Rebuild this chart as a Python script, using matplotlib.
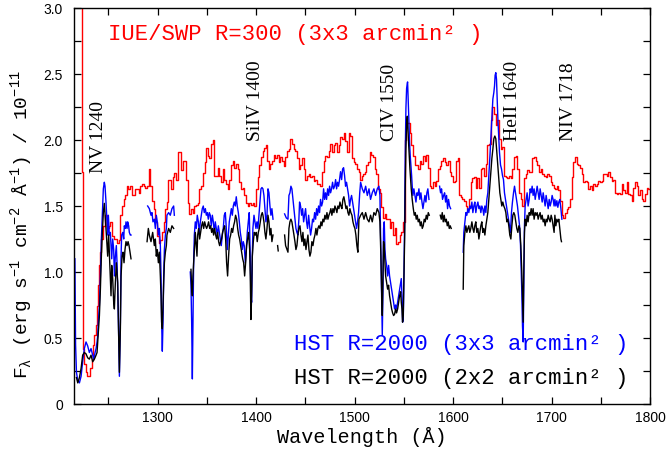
import numpy as np
import matplotlib
matplotlib.use("Agg")
import matplotlib.pyplot as plt

nan = float("nan")

# ---------------- data (wavelength in Angstrom, flux in 1e-11 erg/s/cm2/A) -------------
iue_swp = [
    (1222.6, 3.50), (1223.3, 1.76), (1224.0, 0.52), (1225.0, 0.42), (1226.2, 0.30), (1227.5, 0.24),
    (1229.0, 0.21), (1230.6, 0.21), (1232.3, 0.27), (1233.6, 0.33), (1235.0, 0.45), (1236.3, 0.52),
    (1237.4, 0.60), (1238.7, 0.74), (1240.1, 0.90), (1241.4, 1.05), (1242.4, 1.15), (1243.1, 1.25),
    (1244.8, 1.35), (1247.5, 1.43), (1249.2, 1.33), (1250.9, 1.35), (1252.6, 1.38), (1254.3, 1.27),
    (1256.0, 1.25), (1257.7, 1.25), (1259.4, 1.22), (1261.1, 1.24), (1262.8, 1.43), (1264.5, 1.50),
    (1266.2, 1.55), (1267.8, 1.58), (1269.5, 1.65), (1271.2, 1.63), (1272.9, 1.65), (1274.6, 1.58),
    (1276.3, 1.58), (1278.0, 1.63), (1279.7, 1.63), (1281.4, 1.60), (1283.1, 1.65), (1284.8, 1.67),
    (1286.5, 1.65), (1288.2, 1.64), (1289.9, 1.65), (1291.5, 1.78), (1293.2, 1.65), (1294.9, 1.54),
    (1296.6, 1.48), (1298.3, 1.38), (1300.0, 1.27), (1301.7, 1.22), (1303.4, 1.24), (1305.1, 1.30),
    (1306.8, 1.38), (1308.5, 1.48), (1309.4, 1.53), (1311.1, 1.70), (1312.8, 1.70), (1314.5, 1.63),
    (1316.2, 1.72), (1317.9, 1.75), (1319.6, 1.70), (1321.3, 1.91), (1323.0, 1.91), (1324.7, 1.77),
    (1326.4, 1.84), (1328.1, 1.84), (1329.7, 1.70), (1331.4, 1.52), (1333.1, 1.44), (1334.8, 1.48),
    (1336.5, 1.45), (1338.2, 1.50), (1339.9, 1.51), (1341.6, 1.52), (1343.3, 1.63), (1345.0, 1.65),
    (1346.7, 1.75), (1348.4, 1.83), (1350.0, 1.94), (1351.7, 1.88), (1353.4, 1.86), (1355.1, 1.97),
    (1356.8, 2.00), (1358.5, 1.73), (1360.2, 1.73), (1361.9, 1.79), (1363.6, 1.73), (1365.3, 1.68),
    (1367.0, 1.78), (1368.7, 1.70), (1370.3, 1.67), (1372.0, 1.63), (1373.7, 1.70), (1375.4, 1.81),
    (1377.1, 1.84), (1378.8, 1.79), (1380.5, 1.82), (1382.2, 1.78), (1383.9, 1.68), (1385.6, 1.63),
    (1387.3, 1.64), (1389.0, 1.58), (1390.7, 1.52), (1392.3, 1.50), (1394.0, 1.52), (1395.7, 1.51),
    (1397.4, 1.52), (1399.1, 1.50), (1400.8, 1.63), (1402.5, 1.72), (1404.2, 1.81), (1405.9, 1.87),
    (1407.6, 1.92), (1409.3, 1.94), (1411.0, 1.96), (1412.0, 1.84), (1413.7, 1.78), (1415.4, 1.82),
    (1417.1, 1.84), (1418.7, 1.89), (1420.4, 1.86), (1422.1, 1.89), (1423.8, 1.83), (1425.5, 1.87),
    (1427.2, 1.84), (1428.9, 1.80), (1430.6, 1.87), (1432.3, 1.92), (1434.0, 1.93), (1435.7, 2.01),
    (1437.4, 1.97), (1439.0, 1.93), (1440.7, 1.92), (1442.4, 1.86), (1444.1, 1.78), (1445.8, 1.81),
    (1447.5, 1.86), (1449.2, 1.78), (1450.9, 1.70), (1452.6, 1.73), (1454.3, 1.74), (1456.0, 1.72),
    (1457.7, 1.73), (1459.4, 1.69), (1461.0, 1.70), (1462.7, 1.67), (1464.4, 1.67), (1466.1, 1.65),
    (1467.8, 1.76), (1469.5, 1.84), (1471.2, 1.88), (1472.9, 1.87), (1474.6, 1.92), (1476.3, 1.97),
    (1478.0, 1.91), (1479.7, 1.96), (1481.3, 1.98), (1483.0, 1.91), (1484.7, 1.96), (1486.4, 2.02),
    (1488.1, 2.01), (1489.8, 2.05), (1491.5, 1.99), (1493.2, 1.91), (1494.9, 2.05), (1496.6, 2.03),
    (1498.3, 1.86), (1500.0, 1.83), (1501.7, 1.82), (1503.3, 1.78), (1505.0, 1.76), (1506.7, 1.70),
    (1508.4, 1.73), (1509.5, 1.74), (1511.2, 1.76), (1512.9, 1.81), (1514.6, 1.83), (1516.2, 1.91),
    (1517.9, 1.89), (1519.6, 1.87), (1521.3, 1.78), (1523.0, 1.74), (1524.7, 1.63), (1526.4, 1.60),
    (1528.1, 1.49), (1529.8, 1.41), (1531.5, 1.44), (1533.2, 1.40), (1534.9, 1.40), (1536.5, 1.33),
    (1538.2, 1.38), (1539.9, 1.28), (1541.6, 1.33), (1543.3, 1.21), (1545.0, 1.23), (1546.7, 1.28),
    (1548.4, 1.30), (1550.1, 1.38), (1551.8, 2.00), (1553.5, 2.13), (1555.2, 2.13), (1556.9, 2.05),
    (1558.5, 1.96), (1560.2, 1.88), (1561.9, 1.81), (1563.6, 1.81), (1565.3, 1.78), (1567.0, 1.84),
    (1568.7, 1.82), (1570.4, 1.88), (1572.1, 1.84), (1573.8, 1.89), (1575.5, 1.79), (1577.2, 1.65),
    (1578.8, 1.64), (1580.5, 1.68), (1582.2, 1.65), (1583.9, 1.69), (1585.6, 1.78), (1587.3, 1.80),
    (1589.0, 1.84), (1590.7, 1.86), (1592.4, 1.83), (1594.1, 1.81), (1595.8, 1.84), (1597.5, 1.76),
    (1599.2, 1.73), (1600.9, 1.68), (1602.5, 1.69), (1604.2, 1.84), (1605.9, 1.86), (1606.9, 1.58),
    (1608.6, 1.57), (1610.3, 1.55), (1612.0, 1.54), (1613.6, 1.50), (1615.3, 1.48), (1617.0, 1.55),
    (1618.7, 1.68), (1620.4, 1.71), (1622.1, 1.72), (1623.8, 1.64), (1625.5, 1.71), (1627.2, 1.64),
    (1628.9, 1.78), (1630.6, 1.79), (1632.3, 1.73), (1633.9, 1.82), (1635.6, 1.96), (1637.3, 1.97),
    (1639.0, 2.15), (1640.7, 2.25), (1642.4, 2.20), (1644.1, 2.11), (1645.8, 2.15), (1647.5, 2.01),
    (1649.2, 1.93), (1650.9, 1.95), (1652.6, 1.73), (1654.3, 1.72), (1655.9, 1.71), (1657.6, 1.73),
    (1659.3, 1.71), (1661.0, 1.78), (1662.7, 1.87), (1664.4, 1.88), (1666.1, 1.78), (1667.8, 1.60),
    (1669.5, 1.55), (1671.2, 1.50), (1672.9, 1.71), (1674.6, 1.74), (1676.2, 1.77), (1677.9, 1.76),
    (1679.6, 1.76), (1681.3, 1.86), (1683.0, 1.87), (1684.7, 1.84), (1686.4, 1.81), (1688.1, 1.76),
    (1689.8, 1.78), (1691.5, 1.74), (1693.2, 1.73), (1694.9, 1.72), (1696.6, 1.74), (1698.3, 1.73),
    (1699.9, 1.68), (1701.6, 1.66), (1703.3, 1.64), (1704.4, 1.63), (1706.1, 1.65), (1707.8, 1.62),
    (1709.5, 1.54), (1711.1, 1.43), (1712.8, 1.41), (1714.5, 1.45), (1716.2, 1.48), (1717.9, 1.49),
    (1719.6, 1.55), (1721.3, 1.72), (1723.0, 1.83), (1724.7, 1.87), (1726.4, 1.82), (1728.1, 1.81),
    (1729.8, 1.79), (1731.5, 1.74), (1733.1, 1.68), (1734.8, 1.69), (1736.5, 1.68), (1738.2, 1.63),
    (1739.9, 1.65), (1741.6, 1.62), (1743.3, 1.67), (1745.0, 1.65), (1746.7, 1.67), (1748.4, 1.69),
    (1750.1, 1.68), (1751.8, 1.69), (1753.4, 1.74), (1755.1, 1.74), (1756.8, 1.73), (1758.5, 1.76),
    (1760.2, 1.72), (1761.9, 1.69), (1763.6, 1.70), (1765.3, 1.60), (1767.0, 1.59), (1768.7, 1.60),
    (1770.4, 1.59), (1772.1, 1.67), (1773.8, 1.62), (1775.4, 1.60), (1777.1, 1.68), (1778.8, 1.59),
    (1780.5, 1.58), (1782.2, 1.54), (1783.9, 1.64), (1785.6, 1.68), (1787.3, 1.65), (1789.0, 1.58),
    (1790.7, 1.62), (1792.4, 1.55), (1794.1, 1.54), (1795.8, 1.59), (1797.5, 1.64), (1799.2, 1.63),
    (1800.9, 1.64),
]

hst_3x3 = [
    (1215.9, 1.10), (1216.6, 0.45), (1217.5, 0.24), (1218.8, 0.18), (1220.5, 0.16), (1222.2, 0.21),
    (1223.8, 0.32), (1225.5, 0.42), (1227.2, 0.47), (1228.9, 0.44), (1230.6, 0.39), (1232.3, 0.42),
    (1234.0, 0.37), (1235.0, 0.34), (1236.4, 0.39), (1237.4, 0.42), (1238.4, 0.47), (1239.1, 0.52),
    (1239.7, 0.62), (1240.8, 0.75), (1241.8, 0.97), (1242.8, 1.25), (1243.8, 1.43), (1244.8, 1.63),
    (1245.8, 1.68), (1246.5, 1.65), (1247.5, 1.53), (1248.5, 1.38), (1249.2, 1.28), (1249.9, 1.43),
    (1250.9, 1.28), (1251.9, 1.30), (1252.6, 1.20), (1253.3, 1.10), (1254.3, 1.25), (1255.3, 1.17),
    (1256.0, 0.97), (1257.0, 1.12), (1258.0, 1.20), (1258.7, 1.07), (1259.4, 0.87), (1260.1, 0.62),
    (1261.1, 0.21), (1262.1, 0.62), (1262.8, 1.12), (1263.4, 1.28), (1264.5, 1.30), (1265.5, 1.25),
    (1266.1, 1.35), (1267.2, 1.33), (1267.8, 1.38), (1268.9, 1.33), (1269.5, 1.38), (1270.5, 1.35),
    (1271.2, 1.30), (1272.2, 1.28), (1272.9, 1.28), (nan, nan),
    (1289.8, 1.50), (1291.5, 1.48), (1293.2, 1.43), (1294.2, 1.45), (1295.2, 1.38), (1296.6, 1.40),
    (1297.6, 1.33), (1298.6, 1.43), (1299.6, 1.38), (1300.7, 1.28), (1301.7, 1.33), (1302.7, 1.20),
    (1303.4, 0.97), (1304.0, 0.62), (1304.7, 0.40), (1305.4, 0.62), (1306.1, 0.97), (1306.8, 1.17),
    (1307.8, 1.28), (1308.8, 1.33), (1309.4, 1.43), (1311.1, 1.45), (1312.8, 1.43), (1314.5, 1.48),
    (1316.2, 1.50), (1316.9, 1.43), (nan, nan),
    (1333.1, 1.00), (1333.8, 0.90), (1334.5, 0.62), (1335.2, 0.19), (1335.8, 0.62), (1336.5, 1.07),
    (1337.2, 1.28), (1338.2, 1.38), (1339.2, 1.33), (1340.2, 1.43), (1341.3, 1.38), (1342.3, 1.30),
    (1343.3, 1.38), (1344.3, 1.43), (1345.3, 1.48), (1346.3, 1.50), (1347.3, 1.45), (1348.4, 1.48),
    (1349.4, 1.43), (1350.4, 1.45), (1351.4, 1.40), (1352.4, 1.45), (1353.4, 1.43), (1354.4, 1.35),
    (1355.5, 1.43), (1356.5, 1.38), (1357.5, 1.30), (1358.5, 1.38), (1359.5, 1.33), (1360.5, 1.28),
    (1361.6, 1.35), (1362.6, 1.30), (1363.6, 1.25), (1364.6, 1.20), (1365.6, 1.28), (1366.6, 1.33),
    (1367.6, 1.43), (1368.7, 1.45), (1369.7, 1.33), (1370.7, 1.17), (1371.7, 1.28), (1372.7, 1.38),
    (1373.7, 1.43), (1374.8, 1.48), (1375.8, 1.43), (1376.8, 1.50), (1377.8, 1.53), (1378.8, 1.50),
    (1379.8, 1.57), (1380.8, 1.50), (1381.9, 1.45), (1382.9, 1.38), (1383.9, 1.30), (1384.9, 1.25),
    (1385.9, 1.17), (1386.9, 1.23), (1387.9, 1.20), (1389.0, 1.07), (1390.0, 1.17), (1391.0, 1.30),
    (1392.0, 1.38), (1393.0, 1.45), (1394.0, 1.12), (1394.7, 0.82), (1395.4, 0.77), (1396.1, 1.12),
    (1396.7, 1.33), (1397.8, 1.43), (1398.8, 1.38), (1399.8, 1.33), (1400.8, 1.38), (1401.8, 1.33),
    (1402.8, 1.43), (1403.9, 1.53), (1404.9, 1.63), (1405.9, 1.64), (1406.9, 1.63), (1407.9, 1.58),
    (1408.9, 1.48), (1409.9, 1.38), (1411.0, 1.43), (1412.0, 1.63), (1413.0, 1.60), (1414.0, 1.50),
    (1415.0, 1.43), (1416.0, 1.48), (1417.1, 1.40), (nan, nan),
    (1428.9, 1.44), (1430.6, 1.41), (1432.3, 1.40), (1433.3, 1.58), (1434.3, 1.60), (1435.3, 1.65),
    (1436.3, 1.63), (1437.4, 1.55), (1438.4, 1.48), (1439.4, 1.40), (1440.4, 1.33), (1441.4, 1.30),
    (1442.4, 1.28), (1443.4, 1.40), (1444.1, 1.53), (1445.1, 1.50), (1446.2, 1.43), (1447.2, 1.48),
    (1448.2, 1.38), (1449.2, 1.43), (1450.2, 1.48), (1451.2, 1.38), (1452.2, 1.33), (1453.3, 1.43),
    (1454.3, 1.35), (1455.3, 1.28), (1456.3, 1.33), (1457.3, 1.40), (1458.3, 1.38), (1459.4, 1.45),
    (1460.4, 1.40), (1461.4, 1.48), (1462.4, 1.43), (1463.4, 1.50), (1464.4, 1.45), (1465.4, 1.55),
    (1466.5, 1.50), (1467.5, 1.53), (1468.5, 1.63), (1469.5, 1.55), (1470.5, 1.60), (1471.5, 1.55),
    (1472.6, 1.63), (1473.6, 1.58), (1474.6, 1.65), (1475.6, 1.60), (1476.6, 1.63), (1477.6, 1.68),
    (1478.6, 1.63), (1479.7, 1.65), (1480.7, 1.70), (1481.7, 1.63), (1482.7, 1.68), (1483.7, 1.65),
    (1484.7, 1.70), (1485.7, 1.76), (1486.8, 1.70), (1487.8, 1.78), (1488.8, 1.79), (1489.8, 1.73),
    (1490.8, 1.65), (1491.8, 1.68), (1492.9, 1.63), (1493.9, 1.58), (1494.9, 1.50), (1495.9, 1.55),
    (1496.9, 1.58), (1497.9, 1.53), (1498.9, 1.48), (1500.0, 1.43), (1501.0, 1.38), (1502.0, 1.33),
    (1503.0, 1.38), (1504.0, 1.45), (1505.2, 1.60), (1506.1, 1.68), (1507.8, 1.63), (1509.5, 1.60),
    (1511.2, 1.65), (1512.9, 1.58), (1514.6, 1.63), (1516.2, 1.55), (1517.9, 1.60), (1519.6, 1.63),
    (1521.3, 1.58), (1523.0, 1.63), (1524.7, 1.65), (1525.7, 1.58), (1526.7, 1.12), (1527.4, 0.75),
    (1528.1, 0.52), (1528.8, 0.87), (1529.4, 1.33), (1530.1, 1.38), (1530.8, 1.17), (1531.5, 1.10),
    (1532.5, 1.05), (1533.5, 0.97), (1534.5, 1.05), (1535.5, 0.97), (1536.5, 0.92), (1537.6, 0.87),
    (1538.6, 0.82), (1539.6, 0.77), (1540.6, 0.72), (1541.6, 0.75), (1542.6, 0.72), (1543.7, 0.77),
    (1544.7, 0.82), (1545.7, 0.87), (1546.7, 0.92), (1547.4, 0.95), (1548.1, 0.82), (1548.7, 0.62),
    (1549.4, 0.64), (1550.1, 0.97), (1550.8, 1.38), (1551.4, 1.88), (1552.1, 2.24), (1552.8, 2.39),
    (1553.5, 2.43), (1553.8, 2.44), (1554.5, 2.29), (1555.2, 2.13), (1555.8, 1.98), (1556.5, 1.88),
    (1557.2, 1.81), (1557.9, 1.73), (1558.5, 1.65), (1559.2, 1.58), (1560.2, 1.63), (1561.3, 1.58),
    (1562.3, 1.53), (1563.3, 1.60), (1564.3, 1.58), (1565.3, 1.63), (1566.3, 1.55), (1567.3, 1.60),
    (1568.4, 1.53), (1569.4, 1.48), (1570.4, 1.53), (1571.4, 1.58), (1572.4, 1.53), (1573.4, 1.60),
    (1574.4, 1.63), (1575.5, 1.55), (nan, nan),
    (1586.3, 1.65), (1587.3, 1.60), (1588.3, 1.63), (1589.3, 1.55), (1590.4, 1.58), (1591.4, 1.60),
    (1592.4, 1.53), (1593.4, 1.58), (1594.4, 1.48), (1595.4, 1.55), (1596.4, 1.50), (1597.5, 1.48),
    (nan, nan),
    (1610.3, 1.15), (1610.9, 1.30), (1612.0, 1.38), (1613.0, 1.45), (1614.0, 1.43), (1615.0, 1.48),
    (1616.0, 1.45), (1617.0, 1.50), (1618.0, 1.48), (1619.1, 1.53), (1620.1, 1.45), (1621.1, 1.50),
    (1622.1, 1.53), (1623.1, 1.45), (1624.1, 1.50), (1625.2, 1.53), (1626.2, 1.48), (1627.2, 1.50),
    (1628.2, 1.45), (1629.2, 1.50), (1630.2, 1.48), (1631.2, 1.43), (1632.3, 1.50), (1633.3, 1.45),
    (1634.3, 1.55), (1635.3, 1.60), (1636.3, 1.73), (1637.3, 1.86), (1638.3, 2.01), (1639.4, 2.16),
    (1640.4, 2.31), (1641.4, 2.36), (1642.1, 2.41), (1642.7, 2.49), (1643.4, 2.51), (1644.1, 2.46),
    (1644.8, 2.31), (1645.5, 2.16), (1646.1, 2.06), (1647.1, 1.91), (1648.2, 1.81), (1649.2, 1.78),
    (1650.2, 1.73), (1651.2, 1.70), (1652.2, 1.60), (1653.2, 1.55), (1654.3, 1.50), (1655.3, 1.45),
    (1656.3, 1.40), (1657.3, 1.35), (1658.3, 1.30), (1659.3, 1.45), (1660.3, 1.53), (1661.4, 1.60),
    (1662.4, 1.65), (1663.4, 1.60), (1664.4, 1.55), (1665.4, 1.50), (1666.4, 1.43), (1667.5, 1.35),
    (1668.5, 1.20), (1669.1, 1.05), (1669.8, 0.85), (1670.5, 0.59), (1671.2, 0.47), (1671.8, 0.85),
    (1672.5, 1.35), (1673.2, 1.50), (1674.2, 1.55), (1675.2, 1.60), (1676.2, 1.50), (1677.3, 1.55),
    (1678.3, 1.63), (1679.3, 1.60), (1680.3, 1.65), (1681.3, 1.58), (1682.3, 1.63), (1683.4, 1.55),
    (1684.4, 1.60), (1685.4, 1.65), (1686.4, 1.60), (1687.4, 1.55), (1688.4, 1.63), (1689.4, 1.58),
    (1690.5, 1.53), (1691.5, 1.60), (1692.5, 1.55), (1693.5, 1.50), (1694.5, 1.58), (1695.5, 1.53),
    (1696.6, 1.48), (1697.6, 1.55), (1698.6, 1.50), (1699.6, 1.53), (1700.6, 1.58), (1701.6, 1.55),
    (1702.6, 1.50), (1703.4, 1.55), (1704.4, 1.50), (1705.4, 1.54), (1706.4, 1.49), (1707.4, 1.53),
    (1708.4, 1.55), (1709.5, 1.48), (1710.5, 1.40),
]

hst_2x2 = [
    (1217.5, 0.20), (1218.8, 0.16), (1220.5, 0.20), (1222.2, 0.27), (1223.8, 0.37), (1225.5, 0.39),
    (1227.2, 0.38), (1228.9, 0.35), (1230.6, 0.34), (1232.3, 0.37), (1234.0, 0.32), (1235.7, 0.34),
    (1237.4, 0.37), (1238.4, 0.39), (1240.8, 0.67), (1241.8, 0.87), (1242.8, 1.12), (1243.8, 1.30),
    (1244.8, 1.45), (1245.8, 1.52), (1246.9, 1.40), (1247.9, 1.28), (1248.5, 1.20), (1249.2, 1.12),
    (1250.2, 1.28), (1251.3, 1.07), (1251.9, 0.97), (1252.6, 0.82), (1253.3, 1.05), (1254.3, 0.95),
    (1255.3, 0.77), (1256.0, 0.72), (1257.0, 0.92), (1258.0, 1.07), (1259.4, 0.92), (1260.1, 0.62),
    (1261.1, 0.24), (1262.1, 0.57), (1262.8, 0.97), (1263.8, 1.12), (1264.8, 1.15), (1265.8, 1.07),
    (1266.8, 1.17), (1267.8, 1.23), (1268.9, 1.20), (1269.9, 1.23), (1270.9, 1.20), (1271.9, 1.15),
    (1272.9, 1.10), (nan, nan),
    (1289.2, 1.23), (1290.5, 1.33), (1291.5, 1.28), (1293.2, 1.23), (1294.9, 1.30), (1296.6, 1.20),
    (1297.6, 1.25), (1298.6, 1.12), (1299.6, 1.17), (1300.7, 1.07), (1301.7, 1.15), (1302.7, 0.97),
    (1303.4, 0.82), (1304.0, 0.62), (1304.7, 0.57), (1305.4, 0.75), (1306.1, 0.92), (1306.8, 1.07),
    (1307.8, 1.15), (1308.8, 1.20), (1309.4, 1.28), (1311.1, 1.33), (1312.8, 1.30), (1314.5, 1.35),
    (1316.2, 1.33), (nan, nan),
    (1333.8, 1.02), (1334.5, 0.87), (1335.2, 0.82), (1335.8, 0.97), (1336.5, 1.07), (1337.2, 1.17),
    (1338.2, 1.30), (1339.2, 1.20), (1339.9, 1.12), (1340.6, 1.28), (1341.6, 1.33), (1342.6, 1.25),
    (1343.6, 1.30), (1344.6, 1.35), (1345.6, 1.38), (1346.7, 1.33), (1347.7, 1.38), (1348.7, 1.35),
    (1349.7, 1.33), (1350.7, 1.35), (1351.7, 1.38), (1352.8, 1.33), (1353.8, 1.35), (1354.8, 1.30),
    (1355.8, 1.33), (1356.8, 1.28), (1357.8, 1.33), (1358.9, 1.28), (1359.9, 1.25), (1360.9, 1.30),
    (1361.9, 1.23), (1362.9, 1.20), (1363.9, 1.23), (1364.9, 1.25), (1365.9, 1.30), (1367.0, 1.33),
    (1368.0, 1.35), (1369.0, 1.25), (1370.0, 1.07), (1371.0, 0.97), (1372.0, 1.12), (1373.1, 1.25),
    (1374.1, 1.28), (1375.1, 1.33), (1376.1, 1.30), (1377.1, 1.35), (1378.1, 1.38), (1379.1, 1.43),
    (1380.2, 1.40), (1381.2, 1.33), (1382.2, 1.28), (1383.2, 1.25), (1384.2, 1.20), (1385.2, 1.15),
    (1386.3, 1.10), (1387.3, 1.07), (1388.3, 0.97), (1389.3, 1.07), (1390.3, 1.20), (1391.3, 1.25),
    (1392.3, 1.30), (1393.4, 1.17), (1394.0, 0.97), (1394.7, 0.64), (1395.4, 0.82), (1396.1, 1.12),
    (1397.1, 1.23), (1398.1, 1.30), (1399.1, 1.28), (1400.1, 1.30), (1401.1, 1.23), (1402.2, 1.30),
    (1403.2, 1.33), (1404.2, 1.38), (1405.2, 1.43), (1406.2, 1.45), (1406.9, 1.43), (1407.9, 1.38),
    (1408.9, 1.30), (1409.9, 1.25), (1411.0, 1.33), (1412.0, 1.43), (1413.0, 1.38), (1414.0, 1.28),
    (1415.0, 1.33), (1416.0, 1.23), (1417.1, 1.28), (nan, nan),
    (1421.8, 1.20), (1422.4, 1.16), (nan, nan),
    (1428.9, 1.28), (1429.9, 1.20), (1431.3, 1.17), (1432.3, 1.15), (1433.3, 1.33), (1434.3, 1.38),
    (1435.3, 1.40), (1436.3, 1.38), (1437.4, 1.33), (1438.4, 1.28), (1439.4, 1.23), (1440.4, 1.17),
    (1441.4, 1.20), (1442.4, 1.28), (1443.4, 1.33), (1444.5, 1.35), (1445.5, 1.28), (1446.5, 1.23),
    (1447.5, 1.30), (1448.5, 1.20), (1449.5, 1.25), (1450.6, 1.17), (1451.6, 1.23), (1452.6, 1.28),
    (1453.6, 1.17), (1454.6, 1.12), (1455.6, 1.15), (1456.6, 1.23), (1457.7, 1.20), (1458.7, 1.25),
    (1459.7, 1.28), (1460.7, 1.33), (1461.7, 1.28), (1462.7, 1.33), (1463.7, 1.35), (1464.8, 1.33),
    (1465.8, 1.38), (1466.8, 1.35), (1467.8, 1.40), (1468.8, 1.38), (1469.8, 1.43), (1470.9, 1.40),
    (1471.9, 1.45), (1472.9, 1.40), (1473.9, 1.43), (1474.9, 1.45), (1475.9, 1.48), (1476.9, 1.43),
    (1478.0, 1.48), (1479.0, 1.45), (1480.0, 1.50), (1481.0, 1.48), (1482.0, 1.45), (1483.0, 1.50),
    (1484.1, 1.48), (1485.1, 1.53), (1486.1, 1.50), (1487.1, 1.48), (1488.1, 1.55), (1489.1, 1.57),
    (1490.1, 1.53), (1491.2, 1.48), (1492.2, 1.50), (1493.2, 1.45), (1494.2, 1.43), (1495.2, 1.48),
    (1496.2, 1.45), (1497.3, 1.43), (1498.3, 1.38), (1499.3, 1.35), (1500.3, 1.33), (1501.3, 1.28),
    (1502.3, 1.20), (1503.3, 1.15), (1504.4, 1.40), (1506.1, 1.43), (1507.8, 1.45), (1509.5, 1.40),
    (1511.2, 1.45), (1512.9, 1.40), (1514.6, 1.38), (1516.2, 1.43), (1517.9, 1.38), (1519.6, 1.45),
    (1521.3, 1.43), (1523.0, 1.48), (1524.7, 1.45), (1525.7, 1.38), (1526.7, 1.12), (1527.4, 0.87),
    (1528.1, 0.67), (1528.8, 0.97), (1529.4, 1.23), (1530.1, 1.20), (1530.8, 1.07), (1531.5, 0.97),
    (1532.5, 0.92), (1533.5, 0.87), (1534.5, 0.90), (1535.5, 0.82), (1536.5, 0.77), (1537.6, 0.72),
    (1538.6, 0.69), (1539.6, 0.67), (1540.6, 0.68), (1541.6, 0.72), (1542.6, 0.69), (1543.7, 0.72),
    (1544.7, 0.77), (1545.7, 0.82), (1546.7, 0.85), (1547.4, 0.77), (1548.1, 0.72), (1548.7, 0.62),
    (1549.4, 0.67), (1550.1, 0.97), (1550.8, 1.25), (1551.4, 1.63), (1552.1, 1.93), (1552.8, 2.13),
    (1553.5, 2.18), (1554.1, 2.08), (1554.8, 1.98), (1555.5, 1.88), (1556.2, 1.78), (1556.9, 1.70),
    (1557.5, 1.63), (1558.5, 1.55), (1559.6, 1.48), (1560.6, 1.43), (1561.6, 1.45), (1562.6, 1.40),
    (1563.6, 1.43), (1564.6, 1.38), (1565.7, 1.40), (1566.7, 1.35), (1567.7, 1.38), (1568.7, 1.33),
    (1569.7, 1.35), (1570.7, 1.40), (1571.7, 1.38), (1572.8, 1.43), (1573.8, 1.40), (1574.8, 1.45),
    (1575.8, 1.43), (nan, nan),
    (1587.0, 1.43), (1588.0, 1.40), (1589.0, 1.45), (1590.0, 1.38), (1591.0, 1.43), (1592.0, 1.38),
    (1593.1, 1.40), (1594.1, 1.35), (1595.1, 1.38), (1596.1, 1.33), (1597.1, 1.35), (1598.1, 1.33),
    (nan, nan),
    (1610.3, 0.87), (1610.9, 1.20), (1612.0, 1.30), (1613.0, 1.35), (1614.0, 1.30), (1615.0, 1.33),
    (1616.0, 1.35), (1617.0, 1.30), (1618.0, 1.33), (1619.1, 1.38), (1620.1, 1.33), (1621.1, 1.30),
    (1622.1, 1.35), (1623.1, 1.38), (1624.1, 1.30), (1625.2, 1.33), (1626.2, 1.25), (1627.2, 1.30),
    (1628.2, 1.35), (1629.2, 1.38), (1630.2, 1.30), (1631.2, 1.33), (1632.3, 1.28), (1633.3, 1.35),
    (1634.3, 1.40), (1635.3, 1.45), (1636.3, 1.55), (1637.3, 1.66), (1638.3, 1.76), (1639.4, 1.86),
    (1640.4, 1.93), (1641.4, 2.01), (1642.4, 2.03), (1643.4, 2.01), (1644.4, 1.91), (1645.5, 1.81),
    (1646.5, 1.71), (1647.5, 1.60), (1648.5, 1.55), (1649.5, 1.50), (1650.5, 1.53), (1651.5, 1.50),
    (1652.6, 1.48), (1653.6, 1.45), (1654.6, 1.38), (1655.6, 1.40), (1656.6, 1.35), (1657.6, 1.28),
    (1658.7, 1.25), (1659.7, 1.35), (1660.7, 1.43), (1661.7, 1.45), (1662.7, 1.43), (1663.7, 1.38),
    (1664.7, 1.33), (1665.8, 1.30), (1666.8, 1.35), (1667.8, 1.33), (1668.8, 1.20), (1669.8, 1.00),
    (1670.5, 0.80), (1671.2, 0.62), (1671.8, 1.00), (1672.5, 1.30), (1673.2, 1.40), (1674.2, 1.35),
    (1675.2, 1.43), (1676.2, 1.38), (1677.3, 1.45), (1678.3, 1.43), (1679.3, 1.48), (1680.3, 1.43),
    (1681.3, 1.48), (1682.3, 1.40), (1683.4, 1.45), (1684.4, 1.43), (1685.4, 1.45), (1686.4, 1.40),
    (1687.4, 1.43), (1688.4, 1.45), (1689.4, 1.40), (1690.5, 1.43), (1691.5, 1.38), (1692.5, 1.40),
    (1693.5, 1.35), (1694.5, 1.40), (1695.5, 1.38), (1696.6, 1.43), (1697.6, 1.40), (1698.6, 1.38),
    (1699.6, 1.43), (1700.6, 1.40), (1701.6, 1.35), (1702.6, 1.30), (1703.4, 1.43), (1704.4, 1.35),
    (1705.4, 1.40), (1706.4, 1.38), (1707.4, 1.40), (1708.4, 1.33), (1709.5, 1.25), (1710.1, 1.23),
]

x_ticks = [1250, 1300, 1350, 1400, 1450, 1500, 1550, 1600, 1650, 1700, 1750, 1800]
x_tick_labels = ["", "1300", "", "1400", "", "1500", "", "1600", "", "1700", "", "1800"]
y_ticks = [0, 0.25, 0.5, 0.75, 1.0, 1.25, 1.5, 1.75, 2.0, 2.25, 2.5, 2.75, 3.0]
y_tick_labels = ["0", "", "0.5", "", "1.0", "", "1.5", "", "2.0", "", "2.5", "", "3.0"]

line_names = ["NV 1240", "SiIV 1400", "CIV 1550", "HeII 1640", "NIV 1718"]
line_wl = [1239.4, 1399.1, 1535.1, 1660.4, 1717.6]
line_base = [1.76, 2.00, 2.00, 2.00, 2.00]

legend_texts = ["IUE/SWP R=300 (3x3 arcmin\u00b2 )",
                "HST R=2000 (3x3 arcmin\u00b2 )",
                "HST R=2000 (2x2 arcmin\u00b2 )"]
legend_colors = ["#ff0000", "#0000ff", "#000000"]
legend_pos = [(1249.5, 2.81), (1438.5, 0.455), (1438.5, 0.20)]

# ---------------- figure ----------------
plt.rcParams["mathtext.fontset"] = "custom"
plt.rcParams["mathtext.rm"] = "Liberation Mono"

fig = plt.figure(figsize=(6.66, 4.56), dpi=100)
ax = fig.add_axes([74 / 666, 1 - 405 / 456, (650 - 74) / 666, (405 - 9) / 456])

iue = np.array(iue_swp)
h3 = np.array(hst_3x3)
h2 = np.array(hst_2x2)

ax.plot(iue[:, 0], iue[:, 1], color="#ff0000", lw=1.0, drawstyle="steps-mid")
ax.plot(h3[:, 0], h3[:, 1], color="#0000ff", lw=1.0)
ax.plot(h2[:, 0], h2[:, 1], color="#000000", lw=1.0)

ax.set_xlim(1215, 1800)
ax.set_ylim(0, 3.0)
ax.set_xticks(x_ticks)
ax.set_xticklabels(x_tick_labels, family="Liberation Sans", fontsize=10)
ax.set_yticks(y_ticks)
ax.set_yticklabels(y_tick_labels, family="Liberation Sans", fontsize=10)
ax.tick_params(direction="in", top=True, right=True, length=5, width=0.9)
ax.tick_params(axis="x", pad=4)
ax.tick_params(axis="y", pad=8)
for sp in ax.spines.values():
    sp.set_linewidth(1.0)

for name, wl, yb in zip(line_names, line_wl, line_base):
    ax.text(wl, yb, name, rotation=90, ha="center", va="bottom",
            family="Liberation Serif", fontsize=14)

for txt, col, (tx, ty) in zip(legend_texts, legend_colors, legend_pos):
    ax.text(tx, ty, txt, color=col, ha="left", va="center",
            family="Liberation Mono", fontsize=16)

fig.text(362 / 666, 1 - 437 / 456, "Wavelength (\u00c5)", ha="center", va="center",
         family="Liberation Mono", fontsize=14.5)
fig.text(22 / 666, 1 - 225 / 456,
         r"F$_\mathregular{\lambda}$ (erg s$^\mathregular{-1}$ cm$^\mathregular{-2}$ "
         r"Å$^\mathregular{-1}$) / 10$^\mathregular{-11}$",
         rotation=90, ha="center", va="center", family="Liberation Mono", fontsize=14)

fig.savefig("out.png", dpi=100)
